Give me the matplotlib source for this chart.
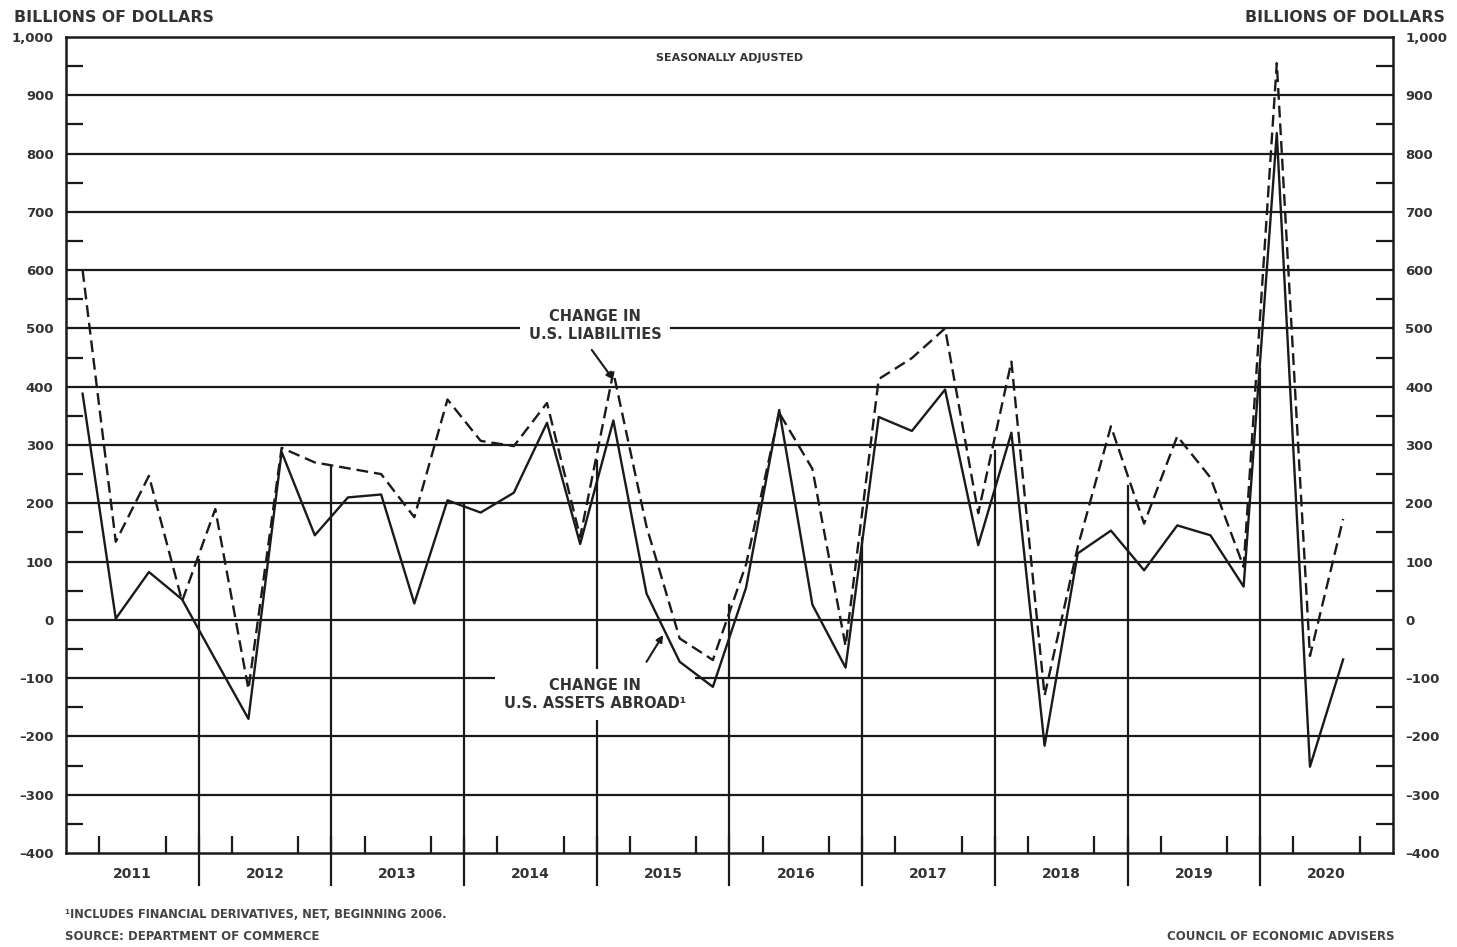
import matplotlib.pyplot as plt
import numpy as np

# quarterly, 2011 Q1 .. 2020 Q3, billions of dollars (seasonally adjusted)
years = ['2011', '2012', '2013', '2014', '2015', '2016', '2017', '2018', '2019', '2020']
assets = [388, 2, 82, 35,
          -68, -170, 288, 145,
          210, 215, 28, 205,
          184, 218, 338, 130,
          342, 45, -72, -115,
          55, 360, 26, -82,
          348, 324, 395, 128,
          321, -216, 114, 153,
          85, 162, 145, 57,
          835, -252, -68]
liabilities = [600, 134, 247, 32,
               190, -119, 295, 270,
               260, 250, 176, 378,
               307, 298, 372, 142,
               425, 160, -32, -69,
               95, 355, 259, -45,
               413, 449, 500, 183,
               443, -130, 125, 332,
               165, 315, 244, 91,
               955, -62, 173]
# how far each year divider reaches up into the plot
divider_tops = [103, 262, 197, 272, 25, 140, 290, 230, 430]

plt.rcParams['font.family'] = ['DejaVu Sans']
fig = plt.figure(figsize=(14.57, 9.47), dpi=100)
ax = fig.add_axes([0.0453, 0.0993, 0.9107, 0.8617])

x = np.arange(len(assets)) + 0.5
ax.set_xlim(0, 40)
ax.set_ylim(-400, 1000)

# horizontal grid
for v in range(-300, 1000, 100):
    ax.axhline(v, color='#1a1a1a', lw=1.6, zorder=1)

# year dividers: from below the axis up to a given height
for i, top in enumerate(divider_tops):
    xb = 4 * (i + 1)
    ax.plot([xb, xb], [-455, top], color='#1a1a1a', lw=1.6, clip_on=False, zorder=1)

ax.plot(x, assets, color='#1a1a1a', lw=1.7, zorder=4)
ax.plot(x, liabilities, color='#1a1a1a', lw=1.7, ls=(0, (5, 2.5)), zorder=4)

for s in ax.spines.values():
    s.set_linewidth(1.8)
    s.set_color('#1a1a1a')

ax.set_yticks(range(-400, 1001, 100))
ylabels = ['1,000' if v == 1000 else ('\u2013' + str(-v) if v < 0 else str(v)) for v in range(-400, 1001, 100)]
ax.set_yticklabels(ylabels)
ax.set_yticks(range(-350, 1000, 100), minor=True)
ax.tick_params(axis='y', which='major', length=0, pad=9, labelsize=9.5,
               labelleft=True, labelright=True)
ax.tick_params(axis='y', which='minor', direction='in', length=12, width=1.6,
               left=True, right=True, color='#1a1a1a')

ax.set_xticks([4 * i + 2 for i in range(10)])
ax.set_xticklabels(years, fontsize=10, fontweight='bold', color='#333333')
ax.set_xticks(np.arange(1, 40), minor=True)
ax.tick_params(axis='x', which='major', length=0, pad=10)
ax.tick_params(axis='x', which='minor', direction='in', length=12, width=1.6, color='#1a1a1a')
for lab in ax.get_yticklabels():
    lab.set_fontweight('bold')
    lab.set_color('#333333')

fig.text(0.0096, 0.981, 'BILLIONS OF DOLLARS', fontsize=11.3, fontweight='bold',
         color='#333333', va='center', ha='left')
fig.text(0.992, 0.981, 'BILLIONS OF DOLLARS', fontsize=11.3, fontweight='bold',
         color='#333333', va='center', ha='right')
ax.text(20.0, 964, 'SEASONALLY ADJUSTED', fontsize=8, fontweight='bold',
        color='#333333', ha='center', va='center')

# series labels (white box breaks the grid line behind them)
ax.text(15.95, 505, 'CHANGE IN\nU.S. LIABILITIES', ha='center', va='center',
        fontsize=10.5, fontweight='bold', color='#333333', linespacing=1.25,
        bbox=dict(boxstyle='square,pad=0.6', fc='white', ec='none'), zorder=3)
ax.text(15.95, -128, 'CHANGE IN\nU.S. ASSETS ABROAD\u00b9', ha='center', va='center',
        fontsize=10.5, fontweight='bold', color='#333333', linespacing=1.25,
        bbox=dict(boxstyle='square,pad=0.6', fc='white', ec='none'), zorder=3)
ax.annotate('', xy=(16.5, 412), xytext=(15.85, 463),
            arrowprops=dict(arrowstyle='-|>', color='#1a1a1a', lw=1.5,
                            shrinkA=0, shrinkB=0, mutation_scale=10), zorder=5)
ax.annotate('', xy=(18.0, -26), xytext=(17.5, -72),
            arrowprops=dict(arrowstyle='-|>', color='#1a1a1a', lw=1.5,
                            shrinkA=0, shrinkB=0, mutation_scale=10), zorder=5)

fig.text(0.0446, 0.034, '\u00b9INCLUDES FINANCIAL DERIVATIVES, NET, BEGINNING 2006.',
         fontsize=8.3, fontweight='bold', color='#444444', va='center')
fig.text(0.0446, 0.011, 'SOURCE: DEPARTMENT OF COMMERCE',
         fontsize=8.5, fontweight='bold', color='#444444', va='center')
fig.text(0.957, 0.011, 'COUNCIL OF ECONOMIC ADVISERS',
         fontsize=8.5, fontweight='bold', color='#444444', va='center', ha='right')

fig.savefig('out.png', dpi=100)
